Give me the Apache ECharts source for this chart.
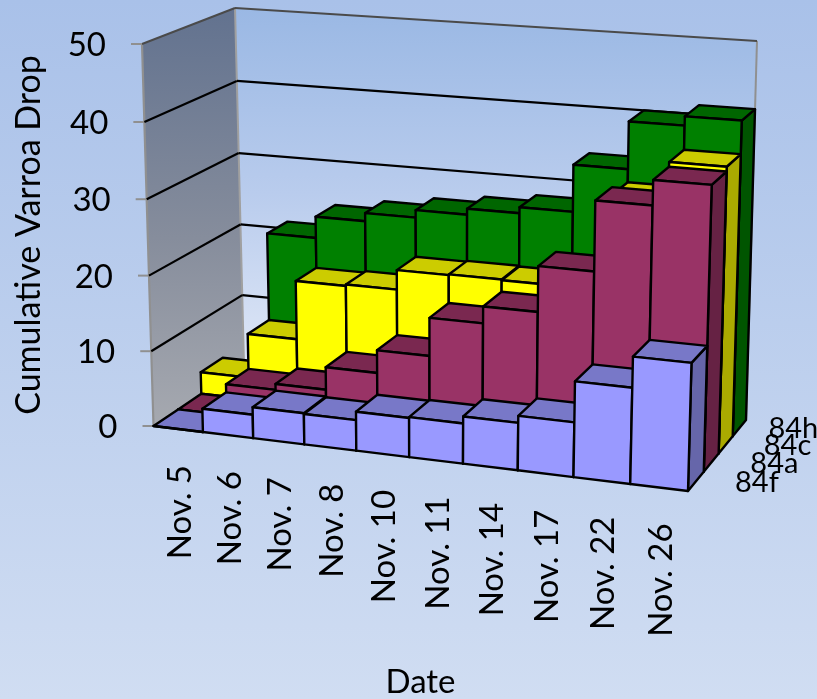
<!DOCTYPE html>
<html>
<head>
<meta charset="utf-8">
<style>html,body{margin:0;padding:0;background:#c0d1ee}#chart{width:817px;height:699px}</style>
<script src="https://cdn.jsdelivr.net/npm/echarts@6/dist/echarts.min.js"></script>
</head>
<body>
<div id="chart"></div>
<script>
// Cumulative varroa drop per hive, by counting date
const dates = ['Nov. 5','Nov. 6','Nov. 7','Nov. 8','Nov. 10','Nov. 11','Nov. 14','Nov. 17','Nov. 22','Nov. 26'];
const valueTicks = [0,10,20,30,40,50];
const hive84f = [0,3.1,4.1,4,5.1,5.2,6.1,7,12.2,16.1];
const hive84a = [0,4.2,5,8,11,16,18.2,24.1,33.1,36.3];
const hive84c = [3,9,16.9,17.1,19.7,19.8,19.7,21,32.1,36.9];
const hive84h = [0,21,23.9,25,26,26.8,27.6,33.8,40,41.2];

// Rows from back to front, so nearer boxes paint over farther ones
const rows = [
  {name:'84h', values:hive84h, depth:3, front:'#008000', top:'#006600', side:'#005500'},
  {name:'84c', values:hive84c, depth:2, front:'#ffff00', top:'#cccc00', side:'#aaaa00'},
  {name:'84a', values:hive84a, depth:1, front:'#993366', top:'#7a2850', side:'#662244'},
  {name:'84f', values:hive84f, depth:0, front:'#9999ff', top:'#7878c8', side:'#6666aa'}
];
const rowCount = rows.length;
const rowLabelGap = {'84h':29, '84c':38, '84a':39, '84f':39};
const edgeWidth = 2.4;
const labelFont = 'Lato';

// Screen corners of the plot box: [width, height, depth] fractions of 0 or 1
const boxCorners = {
  '000':[153.5,426], '100':[688,491], '101':[746,420], '001':[244,365],
  '010':[142,44],    '110':[699,86],  '111':[757,41],  '011':[235,8]
};
const perspective = {u:-0.083, v:-0.026, w:0.12};
const remap = (t,k) => t*(1+k)/(1+k*t);
function project(u,v,w){
  const a=remap(u,perspective.u), b=remap(v,perspective.v), c=remap(w,perspective.w);
  const out=[0,0];
  for(const i of [0,1]) for(const j of [0,1]) for(const k of [0,1]){
    const f=(i?a:1-a)*(j?b:1-b)*(k?c:1-c);
    const p=boxCorners[''+i+j+k];
    out[0]+=f*p[0]; out[1]+=f*p[1];
  }
  return out;
}
// Axis pixel to box fraction, so marks follow the chart's own scales
const fracU=(x,g)=>(x-g.x)/g.width;
const fracV=(y,g)=>(g.y+g.height-y)/g.height;

const poly=(points,fill,stroke,lw)=>({type:'polygon',shape:{points},style:{fill,stroke,lineWidth:lw,lineJoin:'round'},silent:true});
const segment=(a,b,stroke,lw)=>({type:'polyline',shape:{points:[a,b]},style:{fill:'none',stroke,lineWidth:lw},silent:true});

function renderBox(row){
  return function(params,api){
    const g=params.coordSys;
    const c=api.coord([api.value(0),api.value(1)]);
    const band=api.size([1,0])[0];
    const u0=fracU(c[0]-band/2,g), u1=fracU(c[0]+band/2,g), v=fracV(c[1],g);
    const w0=row.depth/rowCount, w1=(row.depth+1)/rowCount;
    const P=project;
    return {type:'group',children:[
      poly([P(u1,0,w0),P(u1,0,w1),P(u1,v,w1),P(u1,v,w0)],row.side,'#000',edgeWidth),
      poly([P(u0,v,w0),P(u1,v,w0),P(u1,v,w1),P(u0,v,w1)],row.top,'#000',edgeWidth),
      poly([P(u0,0,w0),P(u1,0,w0),P(u1,v,w0),P(u0,v,w0)],row.front,'#000',edgeWidth)
    ]};
  };
}

function renderWalls(){
  const P=project;
  const leftFill={type:'linear',x:0,y:0,x2:0,y2:1,colorStops:[{offset:0,color:'#62728f'},{offset:0.55,color:'#868d9c'},{offset:1,color:'#a6a9b0'}]};
  const backFill={type:'linear',x:0,y:0,x2:0,y2:1,colorStops:[{offset:0,color:'#9ab8e4'},{offset:0.45,color:'#b9cced'},{offset:0.8,color:'#d9e3f5'},{offset:1,color:'#e2e9f7'}]};
  return {type:'group',children:[
    poly([P(0,0,1),P(1,0,1),P(1,1,1),P(0,1,1)],backFill,'none',0),
    poly([P(0,0,0),P(0,0,1),P(0,1,1),P(0,1,0)],leftFill,'none',0),
    segment(P(0,0,0),P(0,1,0),'#909090',2.2),
    segment(P(0,0,1),P(0,1,1),'#a0a0a0',2),
    segment(P(1,0,1),P(1,1,1),'#909090',2),
    segment(P(0,1,0),P(0,1,1),'#4a4a4a',2),
    segment(P(0,1,1),P(1,1,1),'#4a4a4a',2)
  ]};
}

// One tick mark, value label and pair of wall lines per axis value
function renderGridline(params,api){
  const g=params.coordSys;
  const val=api.value(1);
  const v=fracV(api.coord([0,val])[1],g);
  const a=project(0,v,0), b=project(0,v,1), c=project(1,v,1);
  const kids=[
    segment([a[0]-11,a[1]],a,'#909090',2),
    {type:'text',x:a[0]-36,y:a[1]+1.5,silent:true,
      style:{text:String(val),textAlign:'right',textVerticalAlign:'middle',fontFamily:labelFont,fontSize:33,fill:'#000'}}
  ];
  if(val>0 && val<50){
    kids.push(segment(a,b,'#000',2.2),segment(b,c,'#000',2.2));
  }
  return {type:'group',children:kids};
}

function renderDateLabel(params,api){
  const g=params.coordSys;
  const c=api.coord([api.value(0),0]);
  const p=project(fracU(c[0],g),0,0);
  return {type:'text',x:p[0]+2,y:p[1]+36,rotation:Math.PI/2,silent:true,
    style:{text:dates[api.value(0)],textAlign:'right',textVerticalAlign:'middle',fontFamily:labelFont,fontSize:33,fill:'#000'}};
}

function renderRowLabel(params,api){
  const row=rows[params.dataIndex];
  const p=project(1,0,(row.depth+0.5)/rowCount);
  return {type:'text',x:p[0]+rowLabelGap[row.name],y:p[1]+1,silent:true,
    style:{text:row.name,textAlign:'left',textVerticalAlign:'middle',fontFamily:labelFont,fontSize:29,fill:'#000'}};
}

const series=[
  {type:'custom',name:'walls',renderItem:renderWalls,data:[[0,0]],encode:{x:0,y:1},z:1,silent:true},
  {type:'custom',name:'gridlines',renderItem:renderGridline,data:valueTicks.map(t=>[0,t]),encode:{x:0,y:1},z:2,silent:true}
];
rows.forEach((row,i)=>series.push({
  type:'custom',name:row.name,renderItem:renderBox(row),
  data:row.values.map((v,j)=>[j,v]),encode:{x:0,y:1},z:3+i,silent:true
}));
series.push(
  {type:'custom',name:'dateLabels',renderItem:renderDateLabel,data:dates.map((d,i)=>[i,0]),encode:{x:0,y:1},z:9,silent:true},
  {type:'custom',name:'rowLabels',renderItem:renderRowLabel,data:rows.map(()=>[0,0]),encode:{x:0,y:1},z:9,silent:true}
);

const chart=echarts.init(document.getElementById('chart'),null,{renderer:'canvas'});
chart.setOption({
  animation:false,
  backgroundColor:{type:'linear',x:0,y:0,x2:0,y2:1,colorStops:[{offset:0,color:'#a9c1e9'},{offset:1,color:'#d0ddf2'}]},
  grid:{left:153,top:44,width:535,height:382,containLabel:false,outerBoundsMode:'none'},
  xAxis:{type:'category',data:dates,axisLine:{show:false},axisTick:{show:false},axisLabel:{show:false},splitLine:{show:false},
    name:'Date',nameLocation:'middle',nameGap:240,nameTextStyle:{fontFamily:labelFont,fontSize:33,color:'#000'}},
  yAxis:{type:'value',min:0,max:50,interval:10,axisLine:{show:false},axisTick:{show:false},axisLabel:{show:false},splitLine:{show:false}},
  graphic:[{type:'text',x:29,y:235,rotation:Math.PI/2,silent:true,
    style:{text:'Cumulative Varroa Drop',textAlign:'center',textVerticalAlign:'middle',fontFamily:labelFont,fontSize:34,fill:'#000'}}],
  series
});
</script>
</body>
</html>
